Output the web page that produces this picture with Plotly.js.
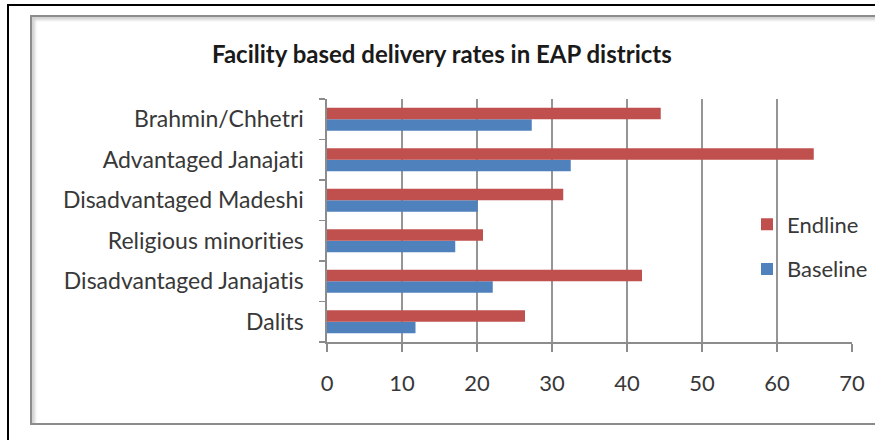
<!DOCTYPE html>
<html>
<head>
<meta charset="utf-8">
<script src="https://cdn.plot.ly/plotly-3.0.1.min.js"></script>
<style>
  html, body { margin: 0; padding: 0; background: #ffffff; overflow: hidden; }
  #wrap { position: relative; width: 875px; height: 440px; overflow: hidden; }
  #outer { position: absolute; left: 7px; top: 4px; width: 900px; height: 460px;
           border-left: 2px solid #000; border-top: 2px solid #000; }
  #inner { position: absolute; left: 30px; top: 15px; width: 900px; height: 406px;
           border: 2px solid #8c8c8c; box-shadow: inset 3px 3px 3px rgba(0,0,0,0.18); }
  #chart { position: absolute; left: 0; top: 0; width: 875px; height: 440px; }
  #chart svg text { font-variant-ligatures: none; font-feature-settings: "liga" 0, "clig" 0; }
</style>
</head>
<body>
<div id="wrap">
  <div id="outer"></div>
  <div id="inner"></div>
  <div id="chart"></div>
</div>
<script>
// Categories listed bottom-to-top (Plotly category axis starts at the bottom)
const categories = ["Dalits", "Disadvantaged Janajatis", "Religious minorities",
                    "Disadvantaged Madeshi", "Advantaged Janajati", "Brahmin/Chhetri"];
const baseline = [11.8, 22.1, 17.1, 20.1, 32.5, 27.3];
const endline  = [26.4, 42.0, 20.8, 31.5, 64.9, 44.5];
const xTicks = [0, 10, 20, 30, 40, 50, 60, 70];

const FONT = "Lato, 'Open Sans', sans-serif";

const traces = [
  { type: "bar", orientation: "h", name: "Baseline", y: categories, x: baseline,
    marker: { color: "#4F81BD" }, legendgroup: "b", legendrank: 2, hoverinfo: "x+name" },
  { type: "bar", orientation: "h", name: "Endline", y: categories, x: endline,
    marker: { color: "#C0504D" }, legendgroup: "e", legendrank: 1, hoverinfo: "x+name" }
];

const layout = {
  width: 875, height: 440,
  paper_bgcolor: "rgba(0,0,0,0)", plot_bgcolor: "rgba(0,0,0,0)",
  margin: { l: 327, r: 23, t: 99, b: 98, autoexpand: false },
  barmode: "group", bargap: 0.43, bargroupgap: 0,
  title: { text: "<b>Facility based delivery rates in EAP districts</b>",
           font: { family: FONT, size: 24, color: "#1a1a1a" },
           x: 0.505, xref: "container", xanchor: "center",
           y: 0.875, yref: "container", yanchor: "middle" },
  xaxis: { range: [0, 70], tickvals: xTicks, ticktext: xTicks.map(String),
           showgrid: true, gridcolor: "#959595", gridwidth: 1.6,
           showline: true, linecolor: "#8c8c8c", linewidth: 1.6,
           ticks: "outside", ticklen: 8, tickcolor: "#8c8c8c", tickwidth: 1.6,
           ticklabelstandoff: 13,
           zeroline: false, fixedrange: true,
           tickfont: { family: FONT, size: 22, color: "#383838" } },
  yaxis: { type: "category", range: [-0.5, 5.5],
           showgrid: false, showline: true, linecolor: "#8c8c8c", linewidth: 1.6,
           ticks: "outside", ticklen: 6, tickcolor: "#8c8c8c", tickwidth: 1.6,
           tickson: "boundaries", ticklabelstandoff: 17, fixedrange: true,
           tickfont: { family: FONT, size: 23, color: "#383838" } },
  legend: { x: 0.80, xanchor: "left", y: 0.57, yanchor: "top",
            bgcolor: "rgba(0,0,0,0)", traceorder: "grouped", tracegroupgap: 13,
            font: { family: FONT, size: 22, color: "#383838" } },
  showlegend: true
};

Plotly.newPlot("chart", traces, layout, { displayModeBar: false, staticPlot: true });
</script>
</body>
</html>
